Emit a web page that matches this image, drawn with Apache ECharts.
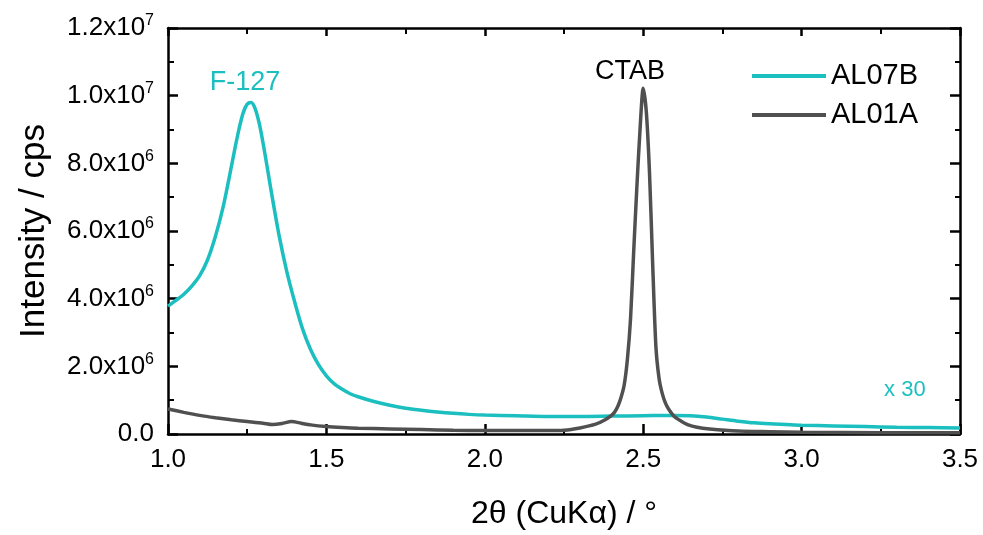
<!DOCTYPE html>
<html>
<head>
<meta charset="utf-8">
<script src="https://cdn.jsdelivr.net/npm/echarts@6/dist/echarts.min.js"></script>
<style>
html,body{margin:0;padding:0;background:#fff;}
#c{width:983px;height:535px;}
</style>
</head>
<body>
<div id="c"></div>
<script>
// ---- data (intensity in cps) ----
const al07bX = [1.000,1.025,1.050,1.075,1.100,1.125,1.150,1.175,1.200,1.2125,1.225,1.2375,1.250,1.2625,1.275,1.2875,1.300,1.3125,1.325,1.350,1.375,1.400,1.425,1.450,1.475,1.500,1.525,1.550,1.575,1.600,1.650,1.700,1.750,1.800,1.850,1.900,1.950,2.000,2.100,2.200,2.300,2.400,2.500,2.600,2.650,2.700,2.750,2.800,2.850,2.900,2.950,3.000,3.100,3.200,3.300,3.400,3.500];
const al07bY = [3.78e6,3.95e6,4.13e6,4.37e6,4.68e6,5.15e6,5.85e6,6.75e6,7.90e6,8.50e6,9.05e6,9.50e6,9.75e6,9.80e6,9.62e6,9.20e6,8.60e6,7.92e6,7.22e6,5.90e6,4.80e6,3.90e6,3.10e6,2.50e6,2.05e6,1.72e6,1.48e6,1.32e6,1.19e6,1.10e6,0.96e6,0.85e6,0.76e6,0.70e6,0.65e6,0.61e6,0.58e6,0.56e6,0.54e6,0.52e6,0.52e6,0.53e6,0.54e6,0.55e6,0.54e6,0.50e6,0.44e6,0.38e6,0.33e6,0.30e6,0.28e6,0.26e6,0.24e6,0.22e6,0.20e6,0.19e6,0.18e6];

const al01aX = [1.00,1.05,1.10,1.15,1.20,1.25,1.30,1.33,1.36,1.39,1.42,1.45,1.50,1.55,1.60,1.70,1.80,1.90,2.00,2.10,2.20,2.25,2.30,2.35,2.38,2.40,2.41,2.42,2.43,2.44,2.45,2.46,2.47,2.48,2.49,2.50,2.51,2.52,2.53,2.54,2.55,2.56,2.57,2.58,2.60,2.62,2.64,2.67,2.71,2.80,2.90,3.00,3.25,3.50];
const al01aY = [0.74e6,0.64e6,0.55e6,0.48e6,0.42e6,0.37e6,0.32e6,0.28e6,0.31e6,0.37e6,0.32e6,0.27e6,0.22e6,0.19e6,0.17e6,0.15e6,0.13e6,0.11e6,0.10e6,0.10e6,0.10e6,0.11e6,0.18e6,0.29e6,0.42e6,0.55e6,0.65e6,0.82e6,1.08e6,1.45e6,2.20e6,3.40e6,5.40e6,7.30e6,9.00e6,10.22e6,9.50e6,7.70e6,5.00e6,2.60e6,1.65e6,1.20e6,0.92e6,0.74e6,0.50e6,0.38e6,0.28e6,0.20e6,0.15e6,0.09e6,0.07e6,0.05e6,0.04e6,0.04e6];

const seriesNames = ['AL07B','AL01A'];
const xTicks = [1.0,1.5,2.0,2.5,3.0,3.5];
const yTicks = [0,2e6,4e6,6e6,8e6,1e7,1.2e7];
// annotations: [text, x, y]
const annF127 = ['F-127', 1.243, 10.4e6];
const annCTAB = ['CTAB', 2.458, 10.7e6];
const annX30 = ['x 30', 3.326, 1.3e6];

const CYAN = '#1CBFBF';
const GRAY = '#505050';
const FONT = '"Liberation Sans", Arial, sans-serif';

function zip(xs, ys){ return xs.map((x,i)=>[x, ys[i]]); }

function yFmt(v){
  if (v === 0) return '{m|0.0}';
  const e = Math.floor(Math.log10(v) + 1e-9);
  const m = (v / Math.pow(10, e)).toFixed(1);
  return '{m|' + m + 'x10}{e|' + e + '}';
}

function annPoint(a, color){
  return {
    coord: [a[1], a[2]],
    symbol: 'circle', symbolSize: 1,
    itemStyle: {color: 'rgba(0,0,0,0)'},
    label: {show: true, position: 'inside', formatter: a[0], color: color,
            fontFamily: FONT, fontSize: a[0] === 'x 30' ? 22 : 27}
  };
}

const axisLine = {show: true, onZero: false, lineStyle: {color: '#000', width: 2.5}};

const chart = echarts.init(document.getElementById('c'), null, {renderer: 'canvas'});
chart.setOption({
  animation: false,
  backgroundColor: '#fff',
  grid: {left: 168, right: 23, top: 28, bottom: 100, containLabel: false},
  legend: {
    data: seriesNames,
    left: 747, top: 56, orient: 'vertical',
    icon: 'rect', itemWidth: 74, itemHeight: 4, itemGap: 9,
    textStyle: {fontFamily: FONT, fontSize: 29, color: '#000', lineHeight: 30}
  },
  xAxis: [{
    type: 'value', min: 1.0, max: 3.5, interval: 0.5, position: 'bottom',
    name: '2\u03B8 (CuK\u03B1) / \u00B0', nameLocation: 'middle', nameGap: 64,
    nameTextStyle: {fontFamily: FONT, fontSize: 32, color: '#000'},
    axisLine: axisLine,
    axisTick: {show: true, inside: true, length: 10, lineStyle: {color: '#000', width: 2.5}},
    minorTick: {show: true, splitNumber: 2, length: 5, lineStyle: {color: '#000', width: 2}},
    axisLabel: {margin: 13, fontFamily: FONT, fontSize: 26, color: '#000',
                formatter: v => v.toFixed(1),
                customValues: xTicks},
    splitLine: {show: false}
  },{
    type: 'value', min: 1.0, max: 3.5, interval: 0.5, position: 'top',
    axisLine: axisLine,
    axisTick: {show: true, inside: true, length: 8, lineStyle: {color: '#000', width: 2.5}},
    minorTick: {show: true, splitNumber: 2, length: 6, lineStyle: {color: '#000', width: 2}},
    axisLabel: {show: false}, splitLine: {show: false}
  }],
  yAxis: [{
    type: 'value', min: 0, max: 1.2e7, interval: 2e6, position: 'left',
    name: 'Intensity / cps', nameLocation: 'middle', nameGap: 116, nameRotate: 90,
    nameTextStyle: {fontFamily: FONT, fontSize: 35, color: '#000'},
    axisLine: axisLine,
    axisTick: {show: true, inside: true, length: 10, lineStyle: {color: '#000', width: 2.5}},
    minorTick: {show: true, splitNumber: 2, length: 6, lineStyle: {color: '#000', width: 2}},
    axisLabel: {margin: 14, formatter: yFmt, customValues: yTicks,
      rich: {
        m: {fontFamily: FONT, fontSize: 26, color: '#000'},
        e: {fontFamily: FONT, fontSize: 16, color: '#000', padding: [0,0,14,0]}
      }},
    splitLine: {show: false}
  },{
    type: 'value', min: 0, max: 1.2e7, interval: 2e6, position: 'right',
    axisLine: axisLine,
    axisTick: {show: true, inside: true, length: 10, lineStyle: {color: '#000', width: 2.5}},
    minorTick: {show: true, splitNumber: 2, length: 5, lineStyle: {color: '#000', width: 2}},
    axisLabel: {show: false}, splitLine: {show: false}
  }],
  series: [{
    name: seriesNames[0], type: 'line', data: zip(al07bX, al07bY),
    symbol: 'none', smooth: 0.3,
    lineStyle: {color: CYAN, width: 3.5}, itemStyle: {color: CYAN},
    markPoint: {data: [annPoint(annF127, CYAN), annPoint(annX30, CYAN)]},
    z: 2
  },{
    name: seriesNames[1], type: 'line', data: zip(al01aX, al01aY),
    symbol: 'none', smooth: 0.25,
    lineStyle: {color: GRAY, width: 3.5}, itemStyle: {color: GRAY},
    markPoint: {data: [annPoint(annCTAB, '#000')]},
    z: 3
  }]
});
</script>
</body>
</html>
